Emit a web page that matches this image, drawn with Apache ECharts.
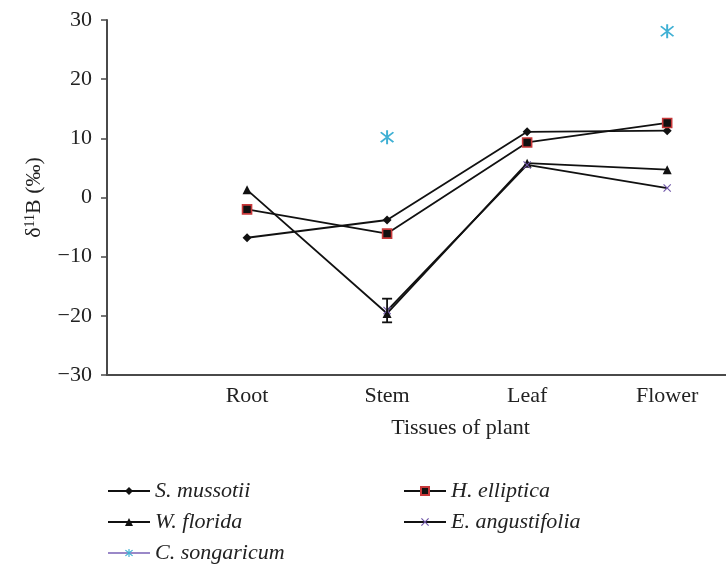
<!DOCTYPE html>
<html>
<head>
<meta charset="utf-8">
<script src="https://cdn.jsdelivr.net/npm/echarts@6/dist/echarts.min.js"></script>
<style>html,body{margin:0;padding:0;background:#fff}#c{width:726px;height:568px}</style>
</head>
<body>
<div id="c"></div>
<script>
var categories = ['Root', 'Stem', 'Leaf', 'Flower'];
var yTicks = [-30, -20, -10, 0, 10, 20, 30];
var sMussotii = [-6.8, -3.8, 11.1, 11.3];
var wFlorida = [1.3, -19.6, 5.8, 4.7];
var hElliptica = [-2.0, -6.1, 9.3, 12.6];
var eAngustifolia = [null, -19.1, 5.5, 1.6];
var cSongaricum = [null, 10.2, null, 28.1];
// error bar (W. florida / E. angustifolia at Stem): [category index, low, high]
var errorBars = [[1, -21.1, -17.1]];

var FONT = '"Liberation Serif", "DejaVu Serif", serif';

function toXY(arr) {
  return arr.map(function (v, i) { return [i + 1, v]; });
}

var starPath = 'path://M-1,-9L1,-9L1,9L-1,9Z M-7.1,-5.7L-5.7,-7.1L7.1,5.7L5.7,7.1Z M5.7,-7.1L7.1,-5.7L-5.7,7.1L-7.1,5.7Z';
var xPath = 'path://M-7.1,-5.7L-5.7,-7.1L7.1,5.7L5.7,7.1Z M5.7,-7.1L7.1,-5.7L-5.7,7.1L-7.1,5.7Z';

var chart = echarts.init(document.getElementById('c'), null, {renderer: 'canvas'});
var lineStyle = {color: '#111', width: 1.8};

var legendCommon = {
  orient: 'vertical', top: 480, padding: 0,
  itemWidth: 42, itemHeight: 10, itemGap: 9,
  textStyle: {fontFamily: FONT, fontSize: 22, fontStyle: 'italic', color: '#222'}
};

chart.setOption({
  animation: false,
  backgroundColor: '#fff',
  grid: {left: 107, right: 0, top: 20, bottom: 193, containLabel: false},
  xAxis: {
    type: 'value', min: 0, max: 4.42, interval: 1,
    axisLine: {onZero: false, lineStyle: {color: '#4a4a4a', width: 2}},
    axisTick: {show: false},
    splitLine: {show: false},
    axisLabel: {
      margin: 10, color: '#222', fontFamily: FONT, fontSize: 22,
      showMaxLabel: false,
      formatter: function (v) { return categories[v - 1] || ''; }
    },
    name: 'Tissues of plant',
    nameLocation: 'middle',
    nameGap: 42,
    nameTextStyle: {color: '#222', fontFamily: FONT, fontSize: 22, padding: [0, 0, 0, 88]}
  },
  yAxis: {
    type: 'value', min: yTicks[0], max: yTicks[yTicks.length - 1], interval: 10,
    axisLine: {show: true, onZero: false, lineStyle: {color: '#4a4a4a', width: 2}},
    axisTick: {show: true, length: 6, lineStyle: {color: '#4a4a4a', width: 1.5}},
    splitLine: {show: false},
    axisLabel: {
      margin: 15, color: '#222', fontFamily: FONT, fontSize: 22,
      formatter: function (v) { return v < 0 ? '\u2212' + Math.abs(v) : String(v); }
    },
    name: '{a|\u03b4}{s|11}{a|B (\u2030)}',
    nameLocation: 'middle',
    nameRotate: 90,
    nameGap: 62,
    nameTextStyle: {
      color: '#222', fontFamily: FONT, fontSize: 22,
      rich: {
        a: {fontFamily: FONT, fontSize: 22, color: '#222'},
        s: {fontFamily: FONT, fontSize: 14, color: '#222', verticalAlign: 'top', padding: [0, 0, 8, 0]}
      }
    }
  },
  legend: [
    Object.assign({}, legendCommon, {left: 107, data: ['S. mussotii', 'W. florida', 'C. songaricum']}),
    Object.assign({}, legendCommon, {left: 403, data: ['H. elliptica', 'E. angustifolia']})
  ],
  series: [
    {
      name: 'S. mussotii', type: 'line', data: toXY(sMussotii),
      symbol: 'diamond', symbolSize: 9,
      itemStyle: {color: '#111'}, lineStyle: lineStyle
    },
    {
      name: 'W. florida', type: 'line', data: toXY(wFlorida),
      symbol: 'triangle', symbolSize: 9,
      itemStyle: {color: '#111'}, lineStyle: lineStyle
    },
    {
      name: 'H. elliptica', type: 'line', data: toXY(hElliptica),
      symbol: 'rect', symbolSize: 9,
      itemStyle: {color: '#111', borderColor: '#c8383a', borderWidth: 1.6}, lineStyle: lineStyle
    },
    {
      name: 'E. angustifolia', type: 'line', data: toXY(eAngustifolia),
      symbol: xPath, symbolSize: 8, connectNulls: false,
      itemStyle: {color: '#6f55a8'}, lineStyle: lineStyle
    },
    {
      name: 'C. songaricum', type: 'line', data: toXY(cSongaricum),
      symbol: starPath, symbolSize: 14, connectNulls: false,
      itemStyle: {color: '#3fb0d4'}, lineStyle: {color: '#9a88c8', width: 1.8}
    },
    {
      name: 'error', type: 'custom', data: errorBars, z: 5,
      renderItem: function (params, api) {
        var x = api.value(0) + 1;
        var lo = api.coord([x, api.value(1)]);
        var hi = api.coord([x, api.value(2)]);
        var w = 5;
        var st = {stroke: '#111', lineWidth: 1.8};
        return {type: 'group', children: [
          {type: 'line', shape: {x1: lo[0], y1: lo[1], x2: hi[0], y2: hi[1]}, style: st},
          {type: 'line', shape: {x1: lo[0] - w, y1: lo[1], x2: lo[0] + w, y2: lo[1]}, style: st},
          {type: 'line', shape: {x1: hi[0] - w, y1: hi[1], x2: hi[0] + w, y2: hi[1]}, style: st}
        ]};
      }
    }
  ]
});
</script>
</body>
</html>
